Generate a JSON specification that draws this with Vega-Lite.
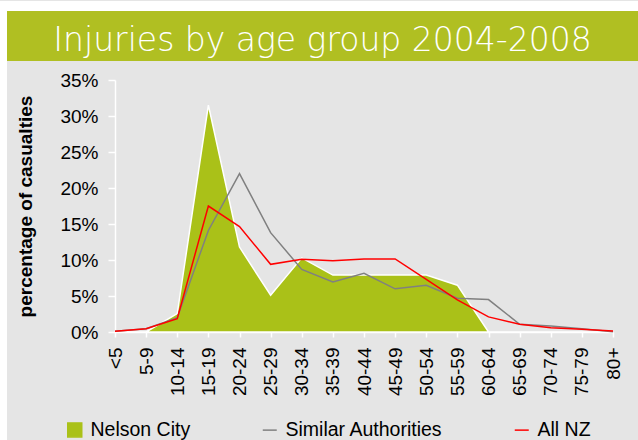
{
  "$schema": "https://vega.github.io/schema/vega-lite/v6.json",
  "background": "#E5E5E5",
  "padding": 0,
  "config": {"view": {"stroke": null}, "font": "Liberation Sans"},
  "datasets": {
    "inj": [
      {"age": "<5", "series": "Nelson City", "pct": 0},
      {"age": "5-9", "series": "Nelson City", "pct": 0},
      {"age": "10-14", "series": "Nelson City", "pct": 0.0255},
      {"age": "15-19", "series": "Nelson City", "pct": 0.315},
      {"age": "20-24", "series": "Nelson City", "pct": 0.118},
      {"age": "25-29", "series": "Nelson City", "pct": 0.051},
      {"age": "30-34", "series": "Nelson City", "pct": 0.103},
      {"age": "35-39", "series": "Nelson City", "pct": 0.079},
      {"age": "40-44", "series": "Nelson City", "pct": 0.079},
      {"age": "45-49", "series": "Nelson City", "pct": 0.079},
      {"age": "50-54", "series": "Nelson City", "pct": 0.079},
      {"age": "55-59", "series": "Nelson City", "pct": 0.065},
      {"age": "60-64", "series": "Nelson City", "pct": 0},
      {"age": "65-69", "series": "Nelson City", "pct": 0},
      {"age": "70-74", "series": "Nelson City", "pct": 0},
      {"age": "75-79", "series": "Nelson City", "pct": 0},
      {"age": "80+", "series": "Nelson City", "pct": 0},
      {"age": "<5", "series": "Similar Authorities", "pct": 0.001},
      {"age": "5-9", "series": "Similar Authorities", "pct": 0.0045},
      {"age": "10-14", "series": "Similar Authorities", "pct": 0.02},
      {"age": "15-19", "series": "Similar Authorities", "pct": 0.141},
      {"age": "20-24", "series": "Similar Authorities", "pct": 0.22},
      {"age": "25-29", "series": "Similar Authorities", "pct": 0.138},
      {"age": "30-34", "series": "Similar Authorities", "pct": 0.087},
      {"age": "35-39", "series": "Similar Authorities", "pct": 0.0695},
      {"age": "40-44", "series": "Similar Authorities", "pct": 0.0815},
      {"age": "45-49", "series": "Similar Authorities", "pct": 0.06},
      {"age": "50-54", "series": "Similar Authorities", "pct": 0.065},
      {"age": "55-59", "series": "Similar Authorities", "pct": 0.047},
      {"age": "60-64", "series": "Similar Authorities", "pct": 0.045},
      {"age": "65-69", "series": "Similar Authorities", "pct": 0.0107},
      {"age": "70-74", "series": "Similar Authorities", "pct": 0.0083},
      {"age": "75-79", "series": "Similar Authorities", "pct": 0.0046},
      {"age": "80+", "series": "Similar Authorities", "pct": 0.0005},
      {"age": "<5", "series": "All NZ", "pct": 0.001},
      {"age": "5-9", "series": "All NZ", "pct": 0.0045},
      {"age": "10-14", "series": "All NZ", "pct": 0.0185},
      {"age": "15-19", "series": "All NZ", "pct": 0.175},
      {"age": "20-24", "series": "All NZ", "pct": 0.1465},
      {"age": "25-29", "series": "All NZ", "pct": 0.094},
      {"age": "30-34", "series": "All NZ", "pct": 0.101},
      {"age": "35-39", "series": "All NZ", "pct": 0.099},
      {"age": "40-44", "series": "All NZ", "pct": 0.1015},
      {"age": "45-49", "series": "All NZ", "pct": 0.1015},
      {"age": "50-54", "series": "All NZ", "pct": 0.073},
      {"age": "55-59", "series": "All NZ", "pct": 0.0445},
      {"age": "60-64", "series": "All NZ", "pct": 0.021},
      {"age": "65-69", "series": "All NZ", "pct": 0.0107},
      {"age": "70-74", "series": "All NZ", "pct": 0.006},
      {"age": "75-79", "series": "All NZ", "pct": 0.0037},
      {"age": "80+", "series": "All NZ", "pct": 0.0014}
    ]
  },
  "spacing": 0,
  "vconcat": [
    {
      "width": 638, "height": 10,
      "view": {"fill": "white", "stroke": null},
      "data": {"values": [{}]},
      "mark": {"type": "text", "text": ""}
    },
    {
      "spacing": 0,
      "hconcat": [
        {
          "width": 7, "height": 50,
          "view": {"fill": "white", "stroke": null},
          "data": {"values": [{}]},
          "mark": {"type": "text", "text": ""}
        },
        {
          "width": 631, "height": 50,
          "view": {"fill": "#B0BF22", "stroke": null},
          "data": {"values": [{"t": "Injuries by age group 2004-2008"}]},
          "mark": {"type": "text", "color": "white", "fontSize": 33, "font": "DejaVu Sans", "fontWeight": 200, "baseline": "alphabetic", "dy": 15},
          "encoding": {"text": {"field": "t", "type": "nominal"}}
        }
      ]
    },
    {
      "spacing": 9,
      "hconcat": [
        {
          "width": 7, "height": 380,
          "view": {"fill": "white", "stroke": null},
          "data": {"values": [{}]},
          "mark": {"type": "text", "text": ""}
        },
        {
          "spacing": 6,
          "vconcat": [
            {
              "width": 1, "height": 4,
              "data": {"values": []},
              "mark": {"type": "point"}
            },
            {
              "width": 498, "height": 252,
              "data": {"name": "inj"},
              "encoding": {
                "x": {
                  "field": "age", "type": "ordinal",
                  "sort": ["<5","5-9","10-14","15-19","20-24","25-29","30-34","35-39","40-44","45-49","50-54","55-59","60-64","65-69","70-74","75-79","80+"],
                  "scale": {"type": "point", "padding": 0},
                  "axis": {"title": null, "labelAngle": 270, "labelFontSize": 19, "labelColor": "black", "domainColor": "white", "domainWidth": 1.5, "tickColor": "white", "tickWidth": 1.5, "tickSize": 5, "labelPadding": 10, "grid": false}
                },
                "y": {
                  "field": "pct", "type": "quantitative",
                  "scale": {"domain": [0, 0.35]},
                  "axis": {"title": "percentage of casualties", "titleFontSize": 19, "titleFontWeight": "bold", "titleColor": "black", "titlePadding": 24, "values": [0, 0.05, 0.1, 0.15, 0.2, 0.25, 0.3, 0.35], "format": ".0%", "labelFontSize": 19, "labelColor": "black", "domainColor": "white", "domainWidth": 1.5, "tickColor": "white", "tickWidth": 1.5, "tickSize": 7, "labelPadding": 10, "grid": false}
                },
                "color": {
                  "field": "series", "type": "nominal",
                  "scale": {"domain": ["Nelson City", "Similar Authorities", "All NZ"], "range": ["#AAC118", "#808080", "#FF0000"]},
                  "legend": {
                    "title": null, "orient": "none", "legendX": 65, "legendY": 419, "direction": "horizontal",
                    "labelFontSize": 19.5, "labelColor": "black", "symbolSize": 196, "columnPadding": 68, "labelOffset": 6,
                    "encode": {"symbols": {"update": {
                      "shape": {"signal": "datum.value === 'Nelson City' ? 'square' : 'stroke'"},
                      "fill": {"signal": "datum.value === 'Nelson City' ? '#AAC118' : 'transparent'"},
                      "stroke": {"signal": "datum.value === 'Nelson City' ? 'white' : datum.value === 'All NZ' ? '#FF0000' : '#808080'"},
                      "strokeWidth": {"value": 1.5},
                      "opacity": {"value": 1}
                    }}}
                  }
                }
              },
              "layer": [
                {"transform": [{"filter": "datum.series === 'Nelson City'"}], "mark": {"type": "area", "stroke": "white", "strokeWidth": 1.5}},
                {"transform": [{"filter": "datum.series === 'Similar Authorities'"}], "mark": {"type": "line", "strokeWidth": 1.5}},
                {"transform": [{"filter": "datum.series === 'All NZ'"}], "mark": {"type": "line", "strokeWidth": 1.5}}
              ]
            }
          ]
        }
      ]
    }
  ]
}
